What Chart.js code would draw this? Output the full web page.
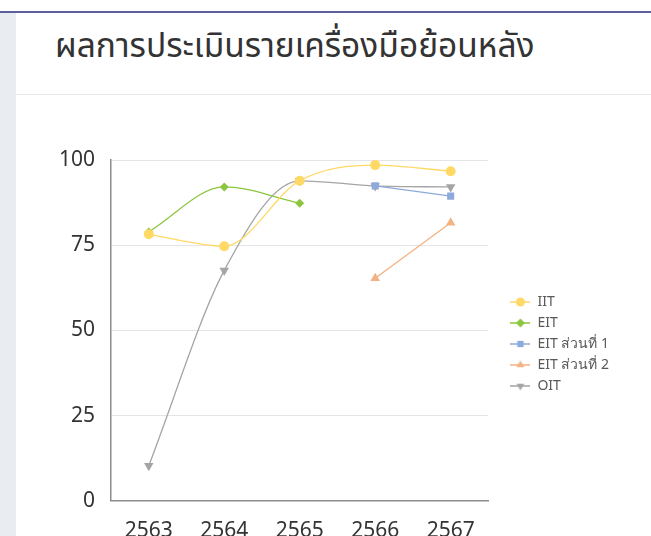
<!DOCTYPE html>
<html lang="th">
<head>
    <meta charset="UTF-8">
    <title>ผลการประเมินรายเครื่องมือย้อนหลัง</title>
    <script src="https://cdn.jsdelivr.net/npm/chart.js"></script>
    <style>
        html, body { margin: 0; padding: 0; background: #fff; overflow: hidden; }
        body { width: 651px; height: 536px; position: relative; font-family: "Noto Sans Thai", "Noto Sans", sans-serif; }
        .topline { position: absolute; left: 0; top: 11px; width: 651px; height: 2px; background: #5d609c; }
        .side { position: absolute; left: 0; top: 13px; width: 16px; height: 523px; background: #e9ecf1; }
        .title { position: absolute; left: 55px; top: 21px; font-size: 33.5px; color: #333; white-space: nowrap; }
        .sep { position: absolute; left: 16px; top: 94px; width: 635px; height: 1px; background: #e6e6e6; }
        .wrap { position: absolute; left: 16px; top: 110px; width: 635px; height: 460px; }
    </style>
</head>
<body>
    <div class="topline"></div>
    <div class="side"></div>
    <div class="title">ผลการประเมินรายเครื่องมือย้อนหลัง</div>
    <div class="sep"></div>
    <div class="wrap"><canvas id="chart"></canvas></div>

    <script>
        const years = ['2563', '2564', '2565', '2566', '2567'];
        const iit = [78.2, 74.7, 93.9, 98.5, 96.7];
        const eit = [78.9, 92.1, 87.3, null, null];
        const eitPart1 = [null, null, null, 92.4, 89.4];
        const eitPart2 = [null, null, null, 65.3, 81.6];
        const oit = [10.3, 67.6, 93.9, 92.4, 92.1];

        const series = [
            { label: 'IIT', data: iit, color: '#ffd966', style: 'circle', rot: 0, r: 5 },
            { label: 'EIT', data: eit, color: '#8cc63f', style: 'rectRot', rot: 0, r: 4.5 },
            { label: 'EIT ส่วนที่ 1', data: eitPart1, color: '#8eaadb', style: 'rect', rot: 0, r: 5 },
            { label: 'EIT ส่วนที่ 2', data: eitPart2, color: '#f4b183', style: 'triangle', rot: 0, r: 5.5 },
            { label: 'OIT', data: oit, color: '#a5a5a5', style: 'triangle', rot: 180, r: 5.5 }
        ];

        // small legend icon: line with marker in the middle
        function legendIcon(s) {
            const c = document.createElement('canvas');
            c.width = 20; c.height = 12;
            const g = c.getContext('2d');
            g.strokeStyle = s.color; g.lineWidth = 1.5;
            g.beginPath(); g.moveTo(0, 6); g.lineTo(20, 6); g.stroke();
            g.fillStyle = s.color;
            Chart.helpers.drawPoint(g, { pointStyle: s.style, rotation: s.rot, radius: 4.5, borderWidth: 0 }, 10, 6);
            return c;
        }

        // nudge the legend a bit right and up, like the original
        const legendShift = {
            id: 'legendShift',
            afterLayout(chart) {
                const lg = chart.legend;
                lg.left += 15; lg.right += 15;
                lg.top -= 17; lg.bottom -= 17;
            }
        };

        new Chart(document.getElementById('chart'), {
            type: 'line',
            data: {
                labels: years,
                datasets: series.map(s => ({
                    label: s.label,
                    data: s.data,
                    borderColor: s.color,
                    backgroundColor: s.color,
                    borderWidth: 1.3,
                    pointStyle: s.style,
                    pointRotation: s.rot,
                    pointRadius: s.r,
                    pointHoverRadius: s.r,
                    pointBorderWidth: 0,
                    cubicInterpolationMode: 'monotone',
                    spanGaps: false
                }))
            },
            plugins: [legendShift],
            options: {
                responsive: true,
                maintainAspectRatio: false,
                animation: false,
                layout: { padding: { left: 27, right: 47, top: 50, bottom: 8 } },
                plugins: {
                    tooltip: { enabled: false },
                    legend: {
                        position: 'right',
                        labels: {
                            usePointStyle: true,
                            pointStyleWidth: 20,
                            color: '#595959',
                            font: { family: 'Noto Sans', size: 14 },
                            padding: 7,
                            generateLabels: chart => series.map((s, i) => ({
                                text: s.label,
                                pointStyle: legendIcon(s),
                                rotation: 0,
                                fillStyle: s.color,
                                strokeStyle: s.color,
                                lineWidth: 0,
                                fontColor: '#595959',
                                hidden: false,
                                datasetIndex: i
                            }))
                        }
                    }
                },
                scales: {
                    x: {
                        offset: true,
                        grid: { display: false, drawTicks: false },
                        border: { display: true, color: '#8c8c8c', width: 1.5 },
                        ticks: { color: '#333', font: { family: 'Noto Sans', size: 21 }, padding: 18 }
                    },
                    y: {
                        min: 0,
                        max: 100,
                        grid: { color: '#e5e5e5', drawTicks: false },
                        border: { display: true, color: '#8c8c8c', width: 1.5 },
                        ticks: { stepSize: 25, color: '#333', font: { family: 'Noto Sans', size: 21 }, padding: 16 }
                    }
                }
            }
        });
    </script>
</body>
</html>
